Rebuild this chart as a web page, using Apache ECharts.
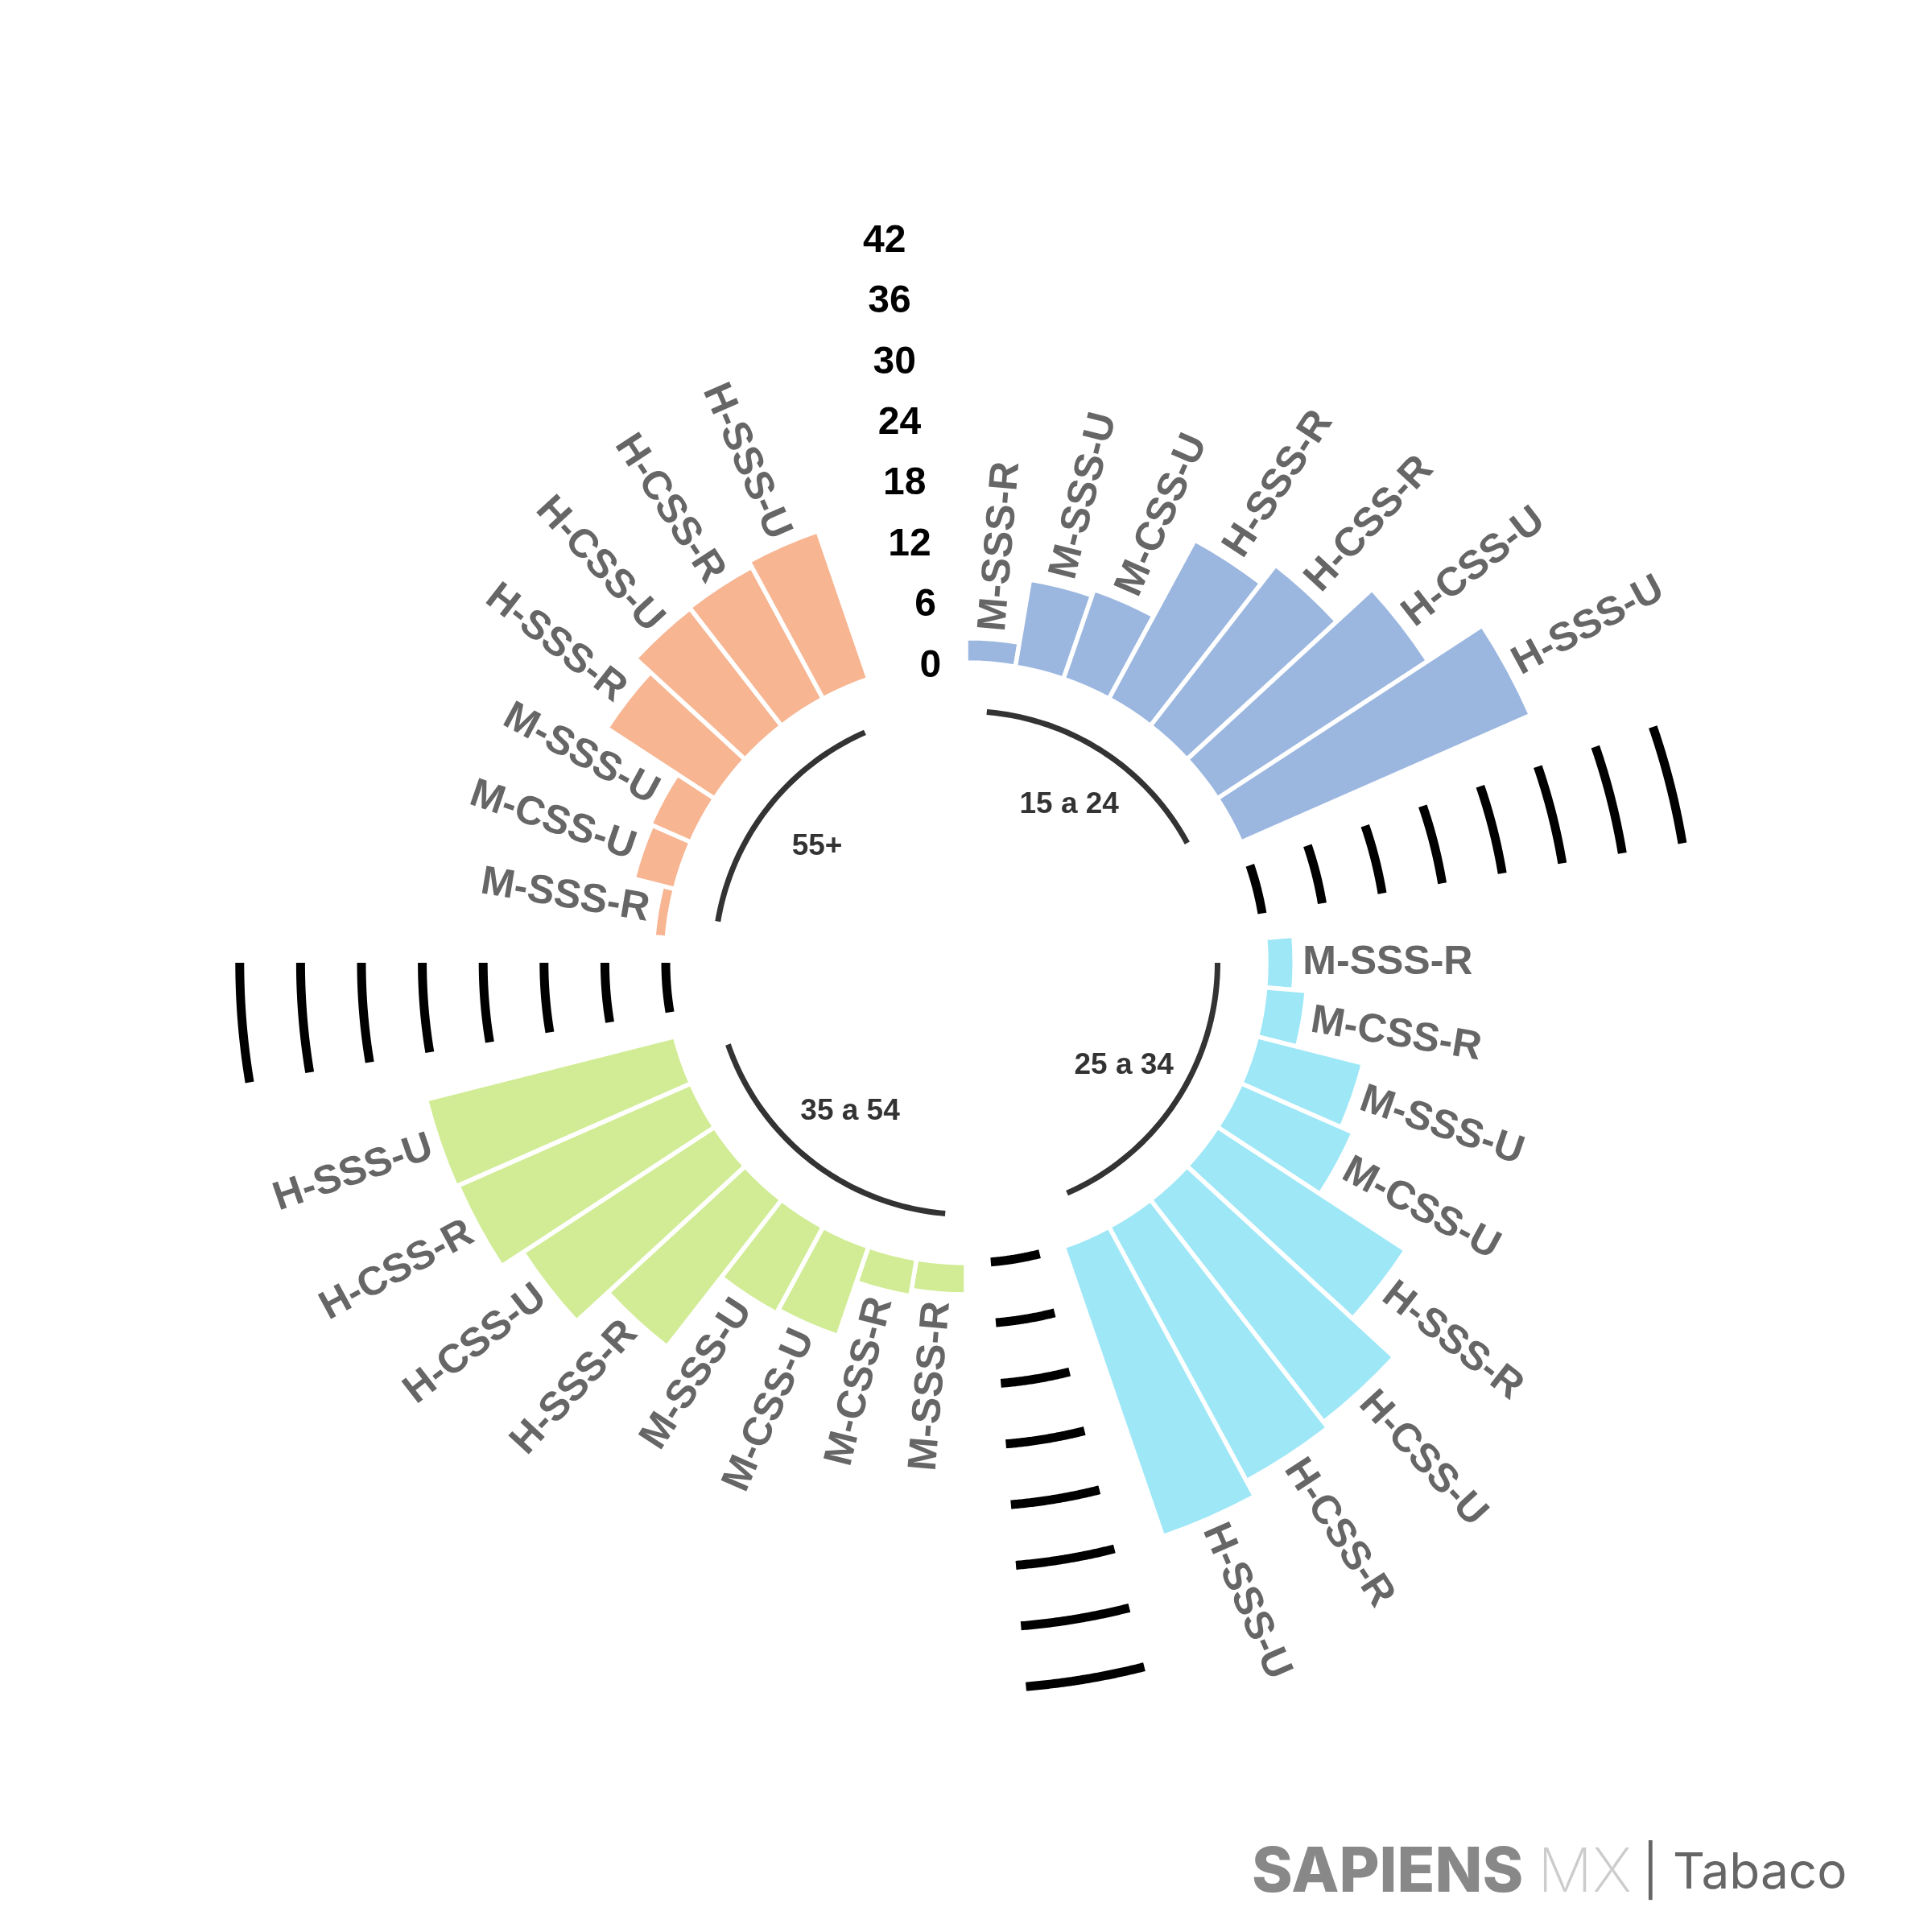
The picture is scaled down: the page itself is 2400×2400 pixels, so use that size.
<!DOCTYPE html>
<html>
<head>
<meta charset="utf-8">
<script src="https://cdn.jsdelivr.net/npm/echarts@6/dist/echarts.min.js"></script>
<style>
html,body{margin:0;padding:0;background:#ffffff;}
#chart{width:2400px;height:2400px;}
</style>
</head>
<body>
<div id="chart"></div>
<script>
// ---------------- DATA ----------------
const groups = ['15 a 24', '25 a 34', '35 a 54', '55+'];
const groupColors = ['#9bb7e0', '#9de7f7', '#d1ec95', '#f7b592'];

const labels1524 = ['M-SSS-R', 'M-SSS-U', 'M-CSS-U', 'H-SSS-R', 'H-CSS-R', 'H-CSS-U', 'H-SSS-U'];
const values1524 = [2.4, 8.7, 9.3, 17.8, 20.1, 24.8, 31.2];

const labels2534 = ['M-SSS-R', 'M-CSS-R', 'M-SSS-U', 'M-CSS-U', 'H-SSS-R', 'H-CSS-U', 'H-CSS-R', 'H-SSS-U'];
const values2534 = [2.8, 4.1, 10.8, 12.1, 22.2, 27.8, 28.5, 30.2];

const labels3554 = ['M-SSS-R', 'M-CSS-R', 'M-CSS-U', 'M-SSS-U', 'H-SSS-R', 'H-CSS-U', 'H-CSS-R', 'H-SSS-U'];
const values3554 = [3.1, 3.7, 9.3, 9.7, 18.4, 22.6, 25.1, 25.3];

const labels55 = ['M-SSS-R', 'M-CSS-U', 'M-SSS-U', 'H-SSS-R', 'H-CSS-U', 'H-CSS-R', 'H-SSS-U'];
const values55 = [1.3, 4.2, 4.4, 12.7, 14.7, 14.8, 15.4];

const scaleTicks = [0, 6, 12, 18, 24, 30, 36, 42];
const emptySlotsPerGroup = 2;

// ---------------- BUILD ----------------
const groupLabels = [labels1524, labels2534, labels3554, labels55];
const groupValues = [values1524, values2534, values3554, values55];

const slots = [];
const groupRanges = [];
groupLabels.forEach(function (labs, g) {
  const start = slots.length;
  labs.forEach(function (l, i) { slots.push({ name: l, value: groupValues[g][i], group: g }); });
  groupRanges.push({ start: start, end: slots.length - 1 });
  for (let k = 0; k < emptySlotsPerGroup; k++) slots.push({ name: '', value: null, group: g });
});
const lastSlot = slots.length - 1;

const barData = slots.map(function (s) {
  return s.value == null ? '-' : { value: s.value, itemStyle: { color: groupColors[s.group] } };
});

const barItems = [];
slots.forEach(function (s, i) { if (s.value != null) barItems.push({ name: s.name, value: s.value, slot: i }); });

// grid arcs in the gaps between consecutive groups
const gridItems = [];
for (let g = 0; g < groups.length - 1; g++) {
  scaleTicks.forEach(function (v) {
    gridItems.push({ from: groupRanges[g].end + 1, to: groupRanges[g + 1].start - 1, value: v });
  });
}

const GROUP_ARC_VALUE = -4.8;
const GROUP_LABEL_VALUE = -11;
const BAR_LABEL_PAD = 0.8;

function polarInfo(api, params, val, slot) {
  const p = api.coord([val, slot]);
  const cx = params.coordSys.cx, cy = params.coordSys.cy;
  const dx = p[0] - cx, dy = p[1] - cy;
  return { x: p[0], y: p[1], cx: cx, cy: cy, r: Math.sqrt(dx * dx + dy * dy), phi: Math.atan2(dy, dx) };
}

function arcElement(api, params, val, s0, s1, color, width) {
  const a = polarInfo(api, params, val, s0);
  const b = polarInfo(api, params, val, s1);
  let e = b.phi;
  while (e < a.phi) e += Math.PI * 2;
  const pts = [];
  const n = 60;
  for (let i = 0; i <= n; i++) {
    const t = a.phi + (e - a.phi) * i / n;
    pts.push([a.cx + a.r * Math.cos(t), a.cy + a.r * Math.sin(t)]);
  }
  return {
    type: 'polyline',
    shape: { points: pts },
    style: { stroke: color, lineWidth: width, fill: null, lineCap: 'butt', lineJoin: 'round' },
    silent: true
  };
}

const chart = echarts.init(document.getElementById('chart'), null, { renderer: 'canvas' });

const option = {
  backgroundColor: '#ffffff',
  animation: false,
  polar: { center: [1200, 1196], radius: [0, 977.8] },
  angleAxis: {
    type: 'category',
    data: slots.map(function (s, i) { return 's' + i; }),
    startAngle: 90,
    clockwise: true,
    axisLine: { show: false }, axisTick: { show: false }, axisLabel: { show: false },
    splitLine: { show: false }, splitArea: { show: false }
  },
  radiusAxis: {
    type: 'value', min: -29.6, max: 48, startValue: 0,
    axisLine: { show: false }, axisTick: { show: false }, axisLabel: { show: false },
    splitLine: { show: false }, splitArea: { show: false }
  },
  series: [
    {
      type: 'bar',
      coordinateSystem: 'polar',
      data: barData,
      barCategoryGap: '0%',
      itemStyle: { borderColor: '#ffffff', borderWidth: 5.5 },
      silent: true
    },
    {
      // bar labels
      type: 'custom',
      coordinateSystem: 'polar',
      encode: { radius: 0, angle: 1 },
      data: barItems.map(function (b) { return [b.value, b.slot]; }),
      renderItem: function (params, api) {
        const it = barItems[params.dataIndex];
        const p = polarInfo(api, params, it.value + BAR_LABEL_PAD, it.slot);
        const th = -p.phi;
        const flip = Math.cos(th) < 0;
        return {
          type: 'text', x: p.x, y: p.y,
          rotation: flip ? th + Math.PI : th,
          style: {
            text: it.name, fill: '#666666',
            font: 'bold 50px "Liberation Sans", Arial, sans-serif',
            align: flip ? 'right' : 'left', verticalAlign: 'middle'
          },
          silent: true
        };
      }
    },
    {
      // grid arcs in gaps
      type: 'custom',
      coordinateSystem: 'polar',
      encode: { radius: 0, angle: 1 },
      data: gridItems.map(function (g) { return [g.value, g.from]; }),
      renderItem: function (params, api) {
        const g = gridItems[params.dataIndex];
        return arcElement(api, params, g.value, g.from, g.to, '#000000', 11);
      }
    },
    {
      // group base arcs
      type: 'custom',
      coordinateSystem: 'polar',
      encode: { radius: 0, angle: 1 },
      data: groupRanges.map(function (r) { return [GROUP_ARC_VALUE, r.start]; }),
      renderItem: function (params, api) {
        const r = groupRanges[params.dataIndex];
        return arcElement(api, params, GROUP_ARC_VALUE, r.start, r.end, '#333333', 7);
      }
    },
    {
      // group labels
      type: 'custom',
      coordinateSystem: 'polar',
      encode: { radius: 0, angle: 1 },
      data: groupRanges.map(function (r) { return [GROUP_LABEL_VALUE, r.start]; }),
      renderItem: function (params, api) {
        const r = groupRanges[params.dataIndex];
        const a = polarInfo(api, params, GROUP_LABEL_VALUE, r.start);
        const b = polarInfo(api, params, GROUP_LABEL_VALUE, r.end);
        let e = b.phi;
        while (e < a.phi) e += Math.PI * 2;
        const m = (a.phi + e) / 2;
        return {
          type: 'text',
          x: a.cx + a.r * Math.cos(m), y: a.cy + a.r * Math.sin(m),
          style: {
            text: groups[params.dataIndex], fill: '#333333',
            font: 'bold 37px "Liberation Sans", Arial, sans-serif',
            align: 'center', verticalAlign: 'middle'
          },
          silent: true
        };
      }
    },
    {
      // scale labels
      type: 'custom',
      coordinateSystem: 'polar',
      encode: { radius: 0, angle: 1 },
      data: scaleTicks.map(function (v) { return [v, lastSlot]; }),
      renderItem: function (params, api) {
        const v = scaleTicks[params.dataIndex];
        const p = polarInfo(api, params, v, lastSlot);
        return {
          type: 'text', x: p.x, y: p.y + 3,
          style: {
            text: String(v), fill: '#000000',
            font: 'bold 48px "Liberation Sans", Arial, sans-serif',
            align: 'right', verticalAlign: 'middle'
          },
          silent: true
        };
      }
    }
  ],
  graphic: [
    { type: 'text', x: 1555, y: 2327, silent: true,
      style: { text: 'SAPIENS', fill: '#888888', font: '800 77px Inter, "Noto Sans", sans-serif', align: 'left', verticalAlign: 'middle' } },
    { type: 'text', x: 1910, y: 2327, silent: true,
      style: { text: 'MX', fill: '#cccccc', font: '200 76px Inter, "Noto Sans", sans-serif', align: 'left', verticalAlign: 'middle' } },
    { type: 'text', x: 2040, y: 2327, silent: true,
      style: { text: '| Tabaco', fill: '#666666', font: '400 62px Inter, "Noto Sans", sans-serif', align: 'left', verticalAlign: 'middle' } }
  ]
};

chart.setOption(option);
</script>
</body>
</html>
